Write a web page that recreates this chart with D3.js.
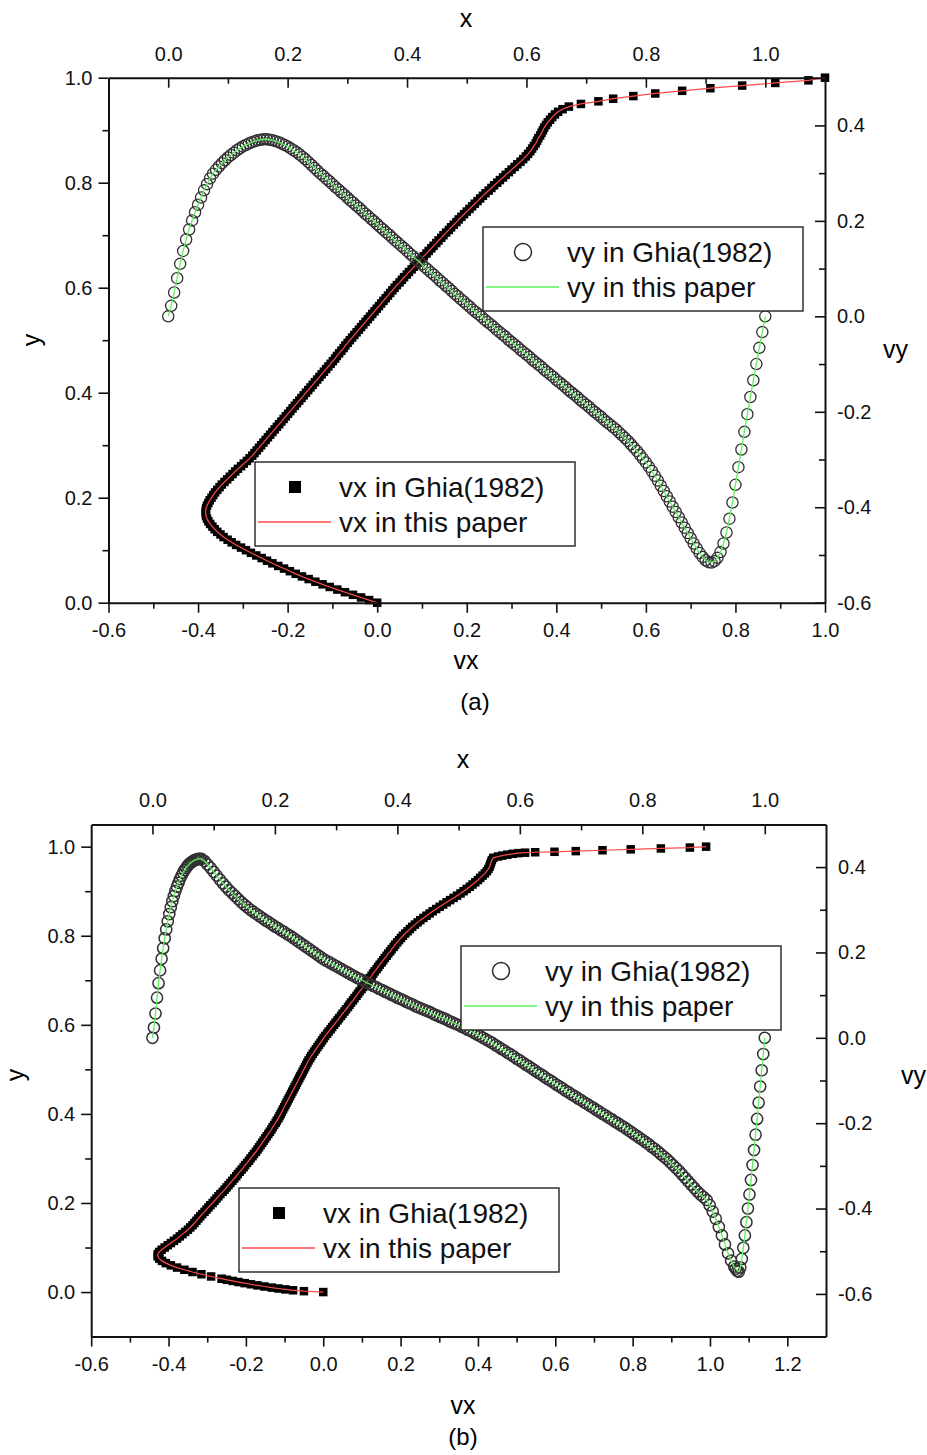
<!DOCTYPE html>
<html>
<head>
<meta charset="utf-8">
<script src="https://cdn.jsdelivr.net/npm/d3@7"></script>
<style>
  html, body { margin: 0; padding: 0; background: #fff; }
  svg text { font-family: "Liberation Sans", Arial, Helvetica, sans-serif; }
</style>
</head>
<body>
<svg id="fig" width="927" height="1455"></svg>
<script>
// ---------------- Panel (a): centreline profiles, uniform stations ----------------
// stations along the vertical (for vx) and horizontal (for vy) centrelines
const stationsA = [0,.005,.01,.015,.02,.025,.03,.035,.04,.045,.05,.055,.06,.065,.07,.075,.08,.085,.09,.095,
  .1,.105,.11,.115,.12,.125,.13,.135,.14,.145,.15,.155,.16,.165,.17,.175,.18,.185,.19,.195,
  .2,.205,.21,.215,.22,.225,.23,.235,.24,.245,.25,.255,.26,.265,.27,.275,.28,.285,.29,.295,
  .3,.305,.31,.315,.32,.325,.33,.335,.34,.345,.35,.355,.36,.365,.37,.375,.38,.385,.39,.395,
  .4,.405,.41,.415,.42,.425,.43,.435,.44,.445,.45,.455,.46,.465,.47,.475,.48,.485,.49,.495,
  .5,.505,.51,.515,.52,.525,.53,.535,.54,.545,.55,.555,.56,.565,.57,.575,.58,.585,.59,.595,
  .6,.605,.61,.615,.62,.625,.63,.635,.64,.645,.65,.655,.66,.665,.67,.675,.68,.685,.69,.695,
  .7,.705,.71,.715,.72,.725,.73,.735,.74,.745,.75,.755,.76,.765,.77,.775,.78,.785,.79,.795,
  .8,.805,.81,.815,.82,.825,.83,.835,.84,.845,.85,.855,.86,.865,.87,.875,.88,.885,.89,.895,
  .9,.905,.91,.915,.92,.925,.93,.935,.94,.945,.95,.955,.96,.965,.97,.975,.98,.985,.99,.995,1];

// vx along x = 0.5, one value per station (y)
const vxA = [0,-.018,-.036,-.054,-.072,-.089,-.106,-.122,-.138,-.153,-.168,-.182,-.195,-.208,-.221,-.234,-.246,-.258,-.270,-.282,
  -.293,-.304,-.315,-.325,-.334,-.343,-.350,-.357,-.363,-.368,-.373,-.377,-.380,-.382,-.383,-.383,-.382,-.380,-.377,-.374,
  -.370,-.366,-.362,-.357,-.352,-.347,-.341,-.335,-.329,-.323,-.317,-.311,-.304,-.298,-.291,-.285,-.279,-.274,-.269,-.264,
  -.259,-.254,-.249,-.244,-.239,-.234,-.229,-.224,-.219,-.214,-.209,-.204,-.199,-.194,-.189,-.184,-.179,-.174,-.169,-.164,
  -.159,-.154,-.149,-.144,-.139,-.134,-.129,-.124,-.119,-.114,-.109,-.104,-.099,-.094,-.090,-.085,-.080,-.075,-.071,-.066,
  -.061,-.056,-.051,-.046,-.041,-.036,-.031,-.026,-.021,-.016,-.011,-.006,-.001,.004,.009,.014,.019,.024,.029,.034,
  .039,.044,.050,.055,.060,.066,.071,.077,.082,.088,.093,.099,.104,.110,.115,.121,.126,.132,.137,.143,
  .148,.154,.160,.165,.171,.177,.182,.188,.194,.200,.206,.212,.218,.224,.230,.236,.242,.249,.255,.261,
  .268,.274,.281,.287,.294,.300,.307,.313,.320,.326,.332,.337,.342,.346,.350,.354,.357,.360,.364,.367,
  .370,.373,.377,.381,.386,.391,.397,.404,.414,.428,.455,.494,.527,.572,.621,.681,.744,.815,.889,.963,1];

// vy along y = 0.5, one value per station (x)
const vyA = [0,.022,.050,.080,.110,.137,.161,.182,.201,.218,.234,.249,.264,.277,.289,.299,.307,.314,.321,.327,
  .333,.338,.343,.348,.352,.356,.359,.362,.365,.367,.369,.370,.371,.371,.370,.369,.367,.365,.362,.359,
  .356,.352,.348,.344,.339,.334,.329,.323,.317,.311,.305,.299,.294,.288,.283,.277,.271,.266,.260,.255,
  .249,.243,.238,.232,.227,.221,.215,.210,.204,.199,.193,.187,.182,.176,.171,.165,.159,.154,.148,.143,
  .137,.131,.126,.120,.115,.109,.103,.098,.092,.087,.081,.075,.070,.064,.059,.053,.047,.042,.036,.031,
  .025,.020,.014,.009,.004,-.001,-.007,-.012,-.017,-.022,-.028,-.033,-.038,-.043,-.049,-.054,-.059,-.064,-.070,-.075,
  -.080,-.085,-.091,-.096,-.101,-.106,-.112,-.117,-.122,-.127,-.133,-.138,-.143,-.148,-.154,-.159,-.164,-.169,-.175,-.180,
  -.185,-.190,-.196,-.201,-.206,-.211,-.217,-.222,-.227,-.232,-.237,-.243,-.249,-.255,-.261,-.268,-.275,-.282,-.290,-.298,
  -.306,-.315,-.324,-.334,-.344,-.355,-.366,-.377,-.388,-.399,-.410,-.421,-.432,-.443,-.454,-.465,-.476,-.486,-.496,-.504,
  -.511,-.515,-.516,-.513,-.506,-.494,-.476,-.453,-.424,-.390,-.353,-.316,-.279,-.242,-.205,-.169,-.134,-.100,-.066,-.033,0];

// ---------------- Panel (b): centreline profiles, wall-refined stations ----------------
const yStationsB = [0,.002,.004,.006,.008,.01,.0125,.015,.0175,.02,.0225,.025,.0275,.03,
  .035,.04,.045,.05,.055,.06,.065,.07,.075,.08,.085,.09,.095,.1,
  .105,.11,.115,.12,.125,.13,.135,.14,.145,.15,
  .155,.16,.165,.17,.175,.18,.185,.19,.195,.2,
  .205,.21,.215,.22,.225,.23,.235,.24,.245,.25,
  .255,.26,.265,.27,.275,.28,.285,.29,.295,.3,
  .305,.31,.315,.32,.325,.33,.335,.34,.345,.35,
  .355,.36,.365,.37,.375,.38,.385,.39,.395,.4,
  .405,.41,.415,.42,.425,.43,.435,.44,.445,.45,
  .455,.46,.465,.47,.475,.48,.485,.49,.495,.5,
  .505,.51,.515,.52,.525,.53,.535,.54,.545,.55,
  .555,.56,.565,.57,.575,.58,.585,.59,.595,.6,
  .605,.61,.615,.62,.625,.63,.635,.64,.645,.65,
  .655,.66,.665,.67,.675,.68,.685,.69,.695,.7,
  .705,.71,.715,.72,.725,.73,.735,.74,.745,.75,
  .755,.76,.765,.77,.775,.78,.785,.79,.795,.8,
  .805,.81,.815,.82,.825,.83,.835,.84,.845,.85,
  .855,.86,.865,.87,.875,.88,.885,.89,.895,.9,
  .905,.91,.915,.92,.925,.93,.935,.94,.945,.95,
  .955,.96,.965,.97,.975,
  .978,.98,.982,.984,.9855,.9865,.9875,.9885,.99,.992,.994,.996,.998,1];

const vxB = [0,-.050,-.078,-.098,-.116,-.133,-.152,-.170,-.187,-.203,-.219,-.234,-.249,-.263,
  -.290,-.315,-.338,-.359,-.378,-.394,-.407,-.417,-.424,-.428,-.428,-.424,-.418,-.410,
  -.402,-.394,-.386,-.378,-.371,-.364,-.357,-.350,-.344,-.338,
  -.333,-.328,-.323,-.318,-.313,-.307,-.302,-.297,-.292,-.286,
  -.281,-.276,-.271,-.266,-.260,-.255,-.250,-.245,-.240,-.235,
  -.230,-.225,-.221,-.216,-.211,-.206,-.202,-.197,-.192,-.188,
  -.183,-.179,-.174,-.170,-.166,-.162,-.158,-.154,-.150,-.146,
  -.142,-.138,-.134,-.131,-.127,-.123,-.120,-.116,-.113,-.110,
  -.107,-.104,-.101,-.098,-.095,-.092,-.089,-.086,-.083,-.080,
  -.077,-.074,-.071,-.068,-.065,-.062,-.059,-.056,-.053,-.050,
  -.047,-.044,-.041,-.038,-.034,-.031,-.027,-.023,-.019,-.015,
  -.011,-.007,-.003,.001,.005,.010,.014,.019,.023,.028,
  .032,.037,.041,.046,.050,.055,.059,.064,.068,.072,
  .077,.081,.086,.090,.094,.099,.103,.107,.112,.116,
  .120,.125,.129,.133,.138,.142,.146,.151,.155,.159,
  .164,.168,.173,.177,.182,.186,.191,.196,.201,.206,
  .212,.218,.224,.230,.237,.244,.251,.259,.267,.275,
  .283,.292,.301,.310,.319,.328,.337,.346,.355,.363,
  .371,.379,.386,.393,.400,.406,.412,.418,.423,.427,
  .430,.432,.434,.436,.440,
  .452,.463,.476,.490,.505,.522,.548,.598,.653,.722,.795,.873,.948,.990];

const xStationsB = [0,.0025,.005,.0075,.01,.0125,.015,.0175,.02,.0225,.025,.0275,.03,.0325,.035,.0375,.04,
  .0425,.045,.0475,.05,.0525,.055,.0575,.06,.0625,.065,.0675,.07,.0725,.075,.0775,.08,
  .085,.09,.095,.1,
  .105,.11,.115,.12,.125,.13,.135,.14,.145,.15,
  .155,.16,.165,.17,.175,.18,.185,.19,.195,.2,
  .205,.21,.215,.22,.225,.23,.235,.24,.245,.25,
  .255,.26,.265,.27,.275,.28,.285,.29,.295,.3,
  .305,.31,.315,.32,.325,.33,.335,.34,.345,.35,
  .355,.36,.365,.37,.375,.38,.385,.39,.395,.4,
  .405,.41,.415,.42,.425,.43,.435,.44,.445,.45,
  .455,.46,.465,.47,.475,.48,.485,.49,.495,.5,
  .505,.51,.515,.52,.525,.53,.535,.54,.545,.55,
  .555,.56,.565,.57,.575,.58,.585,.59,.595,.6,
  .605,.61,.615,.62,.625,.63,.635,.64,.645,.65,
  .655,.66,.665,.67,.675,.68,.685,.69,.695,.7,
  .705,.71,.715,.72,.725,.73,.735,.74,.745,.75,
  .755,.76,.765,.77,.775,.78,.785,.79,.795,.8,
  .805,.81,.815,.82,.825,.83,.835,.84,.845,.85,
  .855,.86,.865,.87,.875,.88,.885,.89,.895,.9,
  .905,.91,.915,.92,.925,.93,.935,.94,.945,.95,
  .9525,.955,.9575,.96,.9625,.965,.9675,.97,.9725,.975,.9775,.98,.9825,.985,.9875,.99,.9925,.995,.9975,1];

const vyB = [0,.024,.057,.094,.128,.158,.185,.210,.233,.254,.273,.290,.306,.320,.332,.344,.354,
  .363,.372,.380,.387,.393,.398,.403,.407,.410,.413,.415,.417,.418,.419,.419,.419,
  .414,.406,.398,.389,
  .380,.371,.362,.354,.346,.339,.332,.325,.318,.312,
  .306,.300,.295,.290,.285,.280,.275,.271,.266,.261,
  .257,.252,.248,.243,.239,.234,.229,.224,.219,.214,
  .209,.204,.199,.194,.189,.184,.180,.176,.172,.168,
  .164,.160,.156,.152,.148,.144,.140,.137,.133,.129,
  .126,.122,.119,.115,.112,.108,.105,.101,.098,.094,
  .091,.088,.084,.081,.078,.074,.071,.068,.065,.062,
  .059,.055,.052,.049,.046,.043,.039,.036,.033,.030,
  .026,.023,.019,.016,.012,.008,.004,.000,-.004,-.008,
  -.012,-.017,-.021,-.026,-.030,-.035,-.039,-.044,-.049,-.053,
  -.058,-.063,-.067,-.072,-.077,-.082,-.086,-.091,-.096,-.100,
  -.105,-.110,-.114,-.119,-.124,-.128,-.133,-.137,-.142,-.146,
  -.151,-.155,-.160,-.164,-.169,-.173,-.178,-.182,-.187,-.191,
  -.196,-.200,-.205,-.209,-.214,-.219,-.224,-.229,-.234,-.239,
  -.244,-.249,-.255,-.260,-.266,-.272,-.278,-.284,-.291,-.298,
  -.305,-.312,-.320,-.328,-.336,-.344,-.352,-.360,-.367,-.373,
  -.380,-.392,-.407,-.424,-.443,-.463,-.484,-.505,-.522,-.536,
  -.541,-.546,-.548,-.538,-.518,-.492,-.463,-.432,-.400,-.367,-.333,-.298,-.263,-.227,-.190,-.152,-.114,-.076,-.038,0];

// ---------------- Tick values ----------------
const vxTicksA = [-0.6,-0.4,-0.2,0,0.2,0.4,0.6,0.8,1.0];
const vxMinorA = [-0.5,-0.3,-0.1,0.1,0.3,0.5,0.7,0.9];
const vxTicksB = [-0.6,-0.4,-0.2,0,0.2,0.4,0.6,0.8,1.0,1.2];
const vxMinorB = [-0.5,-0.3,-0.1,0.1,0.3,0.5,0.7,0.9,1.1];
const xTicks = [0,0.2,0.4,0.6,0.8,1.0];
const xMinor = [0.1,0.3,0.5,0.7,0.9];
const yTicks = [0,0.2,0.4,0.6,0.8,1.0];
const yMinor = [0.1,0.3,0.5,0.7,0.9];
const vyTicks = [-0.6,-0.4,-0.2,0,0.2,0.4];
const vyMinor = [-0.5,-0.3,-0.1,0.1,0.3];

const legendLabels = {
  vxRef: "vx in Ghia(1982)", vxNow: "vx in this paper",
  vyRef: "vy in Ghia(1982)", vyNow: "vy in this paper"
};

const RED = "#ff4a4a", GREEN = "#5ef05e";
const svg = d3.select("#fig");
const fmt = d => d.toFixed(1);

function drawPanel(o) {
  const g = svg.append("g");
  const sx  = d3.scaleLinear().domain(o.vxDomain).range([o.left, o.right]);
  const sxT = d3.scaleLinear().domain(o.xDomain).range([o.left, o.right]);
  const sy  = d3.scaleLinear().domain(o.yDomain).range([o.bottom, o.top]);
  const syR = d3.scaleLinear().domain(o.vyDomain).range([o.bottom, o.top]);

  const vxPts = o.yStations.map((y, i) => [o.vx[i], y]);
  const vyPts = o.xStations.map((x, i) => [x, o.vy[i]]);

  // vx profile: filled squares + computed curve
  const sq = o.square;
  g.append("g").selectAll("rect").data(vxPts).join("rect")
    .attr("x", d => sx(d[0]) - sq / 2).attr("y", d => sy(d[1]) - sq / 2)
    .attr("width", sq).attr("height", sq).attr("fill", "#000");
  g.append("path").datum(vxPts)
    .attr("d", d3.line().x(d => sx(d[0])).y(d => sy(d[1])))
    .attr("fill", "none").attr("stroke", RED).attr("stroke-width", 1.2);

  // vy profile: open circles + computed curve
  g.append("g").selectAll("circle").data(vyPts).join("circle")
    .attr("cx", d => sxT(d[0])).attr("cy", d => syR(d[1])).attr("r", o.circleR)
    .attr("fill", "none").attr("stroke", "#303030").attr("stroke-width", o.circleW);
  g.append("path").datum(vyPts)
    .attr("d", d3.line().x(d => sxT(d[0])).y(d => syR(d[1])))
    .attr("fill", "none").attr("stroke", GREEN).attr("stroke-width", 1.3);

  // legends
  function legend(x, y, marker, color, l1, l2) {
    const lg = g.append("g");
    lg.append("rect").attr("x", x).attr("y", y).attr("width", 320).attr("height", 84)
      .attr("fill", "#fff").attr("stroke", "#222").attr("stroke-width", 1.4);
    if (marker === "square") {
      lg.append("rect").attr("x", x + 34).attr("y", y + 19).attr("width", 12).attr("height", 12).attr("fill", "#000");
    } else {
      lg.append("circle").attr("cx", x + 40).attr("cy", y + 25).attr("r", 8.5)
        .attr("fill", "none").attr("stroke", "#2b2b2b").attr("stroke-width", 1.5);
    }
    lg.append("line").attr("x1", x + 3).attr("x2", x + 76).attr("y1", y + 60).attr("y2", y + 60)
      .attr("stroke", color).attr("stroke-width", 1.4);
    lg.append("text").attr("x", x + 84).attr("y", y + 35).attr("font-size", 28).attr("fill", "#111").text(l1);
    lg.append("text").attr("x", x + 84).attr("y", y + 70).attr("font-size", 28).attr("fill", "#111").text(l2);
  }
  legend(o.vyLegend[0], o.vyLegend[1], "circle", GREEN, legendLabels.vyRef, legendLabels.vyNow);
  legend(o.vxLegend[0], o.vxLegend[1], "square", RED, legendLabels.vxRef, legendLabels.vxNow);

  // axes (frame)
  function axis(gen, tr, major, minor, inward, pad) {
    const s = inward ? -1 : 1;
    const a = g.append("g").attr("transform", tr)
      .call(gen.tickValues(major).tickSizeInner(10 * s).tickSizeOuter(0).tickPadding(pad).tickFormat(fmt));
    a.select(".domain").attr("stroke-width", 2).attr("stroke", "#111");
    a.selectAll(".tick line").attr("stroke-width", 1.6).attr("stroke", "#111");
    a.selectAll(".tick text").attr("font-size", 20).attr("fill", "#111")
      .attr("font-family", "'Liberation Sans', Arial, sans-serif");
    const m = g.append("g").attr("transform", tr)
      .call(gen.tickValues(minor).tickSizeInner(6 * s).tickSizeOuter(0).tickFormat(() => ""));
    m.select(".domain").remove();
    m.selectAll(".tick line").attr("stroke-width", 1.6).attr("stroke", "#111");
  }
  axis(d3.axisBottom(sx), `translate(0,${o.bottom})`, o.vxTicks, o.vxMinor, false, 10);
  axis(d3.axisTop(sxT), `translate(0,${o.top})`, xTicks, xMinor, true, 17);
  axis(d3.axisLeft(sy), `translate(${o.left},0)`, yTicks, yMinor, false, 6);
  axis(d3.axisRight(syR), `translate(${o.right},0)`, vyTicks, vyMinor, true, 12);

  // titles
  const cx = o.titleX;
  g.append("text").attr("x", cx).attr("y", o.xTitleY).attr("text-anchor", "middle").attr("font-size", 25).text("x");
  g.append("text").attr("x", cx).attr("y", o.vxTitleY).attr("text-anchor", "middle").attr("font-size", 25).text("vx");
  g.append("text").attr("transform", `translate(${o.yTitle[0]},${o.yTitle[1]}) rotate(-90)`)
    .attr("text-anchor", "middle").attr("font-size", 25).text("y");
  g.append("text").attr("x", o.vyTitle[0]).attr("y", o.vyTitle[1]).attr("font-size", 25).text("vy");
  g.append("text").attr("x", o.capX).attr("y", o.capY).attr("text-anchor", "middle")
    .attr("font-size", 24).attr("font-family", "'Liberation Serif', 'Times New Roman', serif").text(o.caption);
}

drawPanel({
  left: 108.5, right: 825, top: 77.7, bottom: 602.7,
  vxDomain: [-0.6, 1.0], xDomain: [-0.1, 1.1], yDomain: [0, 1], vyDomain: [-0.6, 0.5],
  yStations: stationsA, vx: vxA, xStations: stationsA, vy: vyA,
  vxTicks: vxTicksA, vxMinor: vxMinorA, square: 8.5, circleR: 5.6, circleW: 1.3,
  vyLegend: [483, 227], vxLegend: [255, 462],
  titleX: 466, xTitleY: 27, vxTitleY: 669, yTitle: [40, 340], vyTitle: [883, 358],
  capX: 475, capY: 710, caption: "(a)"
});

drawPanel({
  left: 91.2, right: 826, top: 824.4, bottom: 1336.6,
  vxDomain: [-0.6, 1.3], xDomain: [-0.1, 1.1], yDomain: [-0.1, 1.05], vyDomain: [-0.7, 0.5],
  yStations: yStationsB, vx: vxB, xStations: xStationsB, vy: vyB,
  vxTicks: vxTicksB, vxMinor: vxMinorB, square: 8.5, circleR: 5.6, circleW: 1.5,
  vyLegend: [461, 946], vxLegend: [239, 1188],
  titleX: 463, xTitleY: 768, vxTitleY: 1414, yTitle: [24, 1075], vyTitle: [901, 1084],
  capX: 463, capY: 1445, caption: "(b)"
});
</script>
</body>
</html>
